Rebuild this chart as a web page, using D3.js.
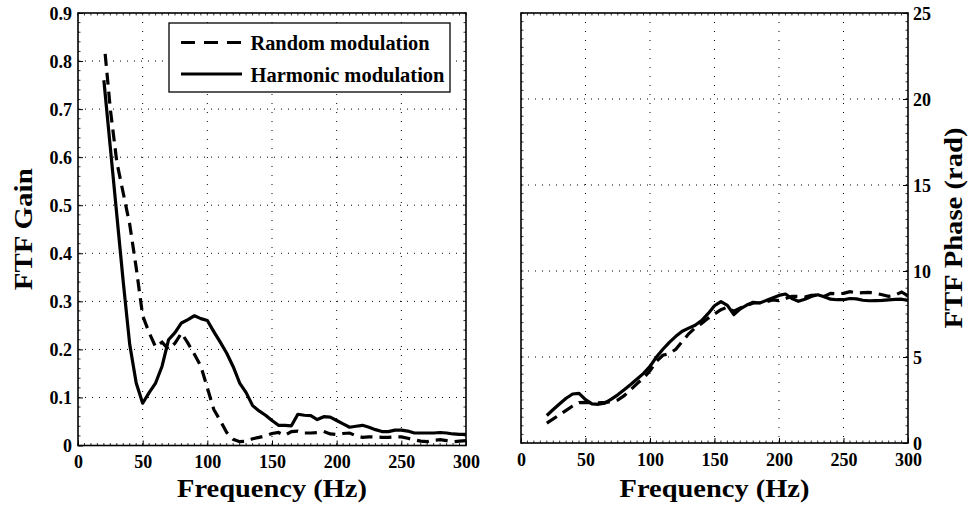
<!DOCTYPE html>
<html>
<head>
<meta charset="utf-8">
<script src="https://cdn.jsdelivr.net/npm/d3@7"></script>
<style>
  body { margin: 0; background: #fff; }
  text { font-family: "Liberation Serif", "DejaVu Serif Condensed", "DejaVu Serif", serif; font-weight: bold; fill: #000; }
</style>
</head>
<body>
<svg width="969" height="508"></svg>
<script>
// Gain data (left panel)
const harmFreq = [20, 25, 30, 35, 40, 45, 50, 55, 60, 65, 70, 75, 80, 85, 90, 95, 100, 105, 110, 115, 120, 125, 130, 135, 140, 145, 150, 155, 160, 165, 170, 175, 180, 185, 190, 195, 200, 205, 210, 215, 220, 225, 230, 235, 240, 245, 250, 255, 260, 265, 270, 275, 280, 285, 290, 295, 300];
const harmGain = [0.76, 0.62, 0.48, 0.34, 0.21, 0.13, 0.088, 0.11, 0.13, 0.165, 0.22, 0.235, 0.255, 0.262, 0.27, 0.264, 0.26, 0.237, 0.215, 0.192, 0.164, 0.13, 0.11, 0.083, 0.072, 0.063, 0.052, 0.042, 0.042, 0.041, 0.065, 0.063, 0.062, 0.054, 0.06, 0.059, 0.052, 0.045, 0.038, 0.04, 0.042, 0.038, 0.033, 0.029, 0.029, 0.032, 0.032, 0.03, 0.026, 0.026, 0.026, 0.026, 0.027, 0.026, 0.024, 0.023, 0.023];

const randFreq = [21, 25, 30, 35, 40, 45, 50, 55, 60, 65, 70, 75, 80, 85, 90, 95, 100, 105, 110, 115, 120, 125, 130, 135, 140, 145, 150, 155, 160, 165, 170, 175, 180, 185, 190, 195, 200, 205, 210, 215, 220, 225, 230, 235, 240, 245, 250, 255, 260, 265, 270, 275, 280, 285, 290, 295, 300];
const randGain = [0.815, 0.70, 0.59, 0.525, 0.46, 0.37, 0.27, 0.235, 0.205, 0.215, 0.2, 0.213, 0.234, 0.213, 0.19, 0.165, 0.12, 0.075, 0.052, 0.027, 0.013, 0.008, 0.009, 0.014, 0.017, 0.02, 0.025, 0.027, 0.021, 0.029, 0.03, 0.026, 0.026, 0.027, 0.029, 0.024, 0.023, 0.025, 0.026, 0.02, 0.017, 0.018, 0.018, 0.017, 0.017, 0.018, 0.018, 0.015, 0.012, 0.009, 0.008, 0.011, 0.012, 0.01, 0.008, 0.009, 0.01];

// Phase data (right panel)
const phaseFreq = [20, 25, 30, 35, 40, 45, 50, 55, 60, 65, 70, 75, 80, 85, 90, 95, 100, 105, 110, 115, 120, 125, 130, 135, 140, 145, 150, 155, 160, 165, 170, 175, 180, 185, 190, 195, 200, 205, 210, 215, 220, 225, 230, 235, 240, 245, 250, 255, 260, 265, 270, 275, 280, 285, 290, 295, 300];
const harmPhase = [1.6, 1.95, 2.28, 2.6, 2.85, 2.88, 2.52, 2.28, 2.25, 2.32, 2.55, 2.8, 3.1, 3.4, 3.72, 4.05, 4.45, 5.0, 5.45, 5.85, 6.2, 6.5, 6.68, 6.85, 7.12, 7.52, 7.98, 8.22, 8.0, 7.46, 7.8, 8.02, 8.18, 8.14, 8.28, 8.43, 8.58, 8.66, 8.4, 8.24, 8.36, 8.52, 8.62, 8.5, 8.36, 8.33, 8.33, 8.4, 8.38, 8.3, 8.27, 8.28, 8.29, 8.32, 8.35, 8.36, 8.29];
const randPhase = [1.16, 1.4, 1.65, 1.9, 2.15, 2.35, 2.36, 2.34, 2.34, 2.36, 2.4, 2.5, 2.75, 3.1, 3.45, 3.78, 4.2, 4.75, 5.1, 5.2, 5.45, 5.9, 6.35, 6.7, 6.95, 7.25, 7.5, 7.75, 7.9, 7.66, 7.85, 8.0, 8.14, 8.16, 8.2, 8.32, 8.28, 8.4, 8.53, 8.52, 8.49, 8.58, 8.6, 8.52, 8.7, 8.68, 8.7, 8.8, 8.72, 8.74, 8.76, 8.7, 8.62, 8.53, 8.6, 8.78, 8.55];

const freqTicks = [0, 50, 100, 150, 200, 250, 300];
const gainTicks = [0, 0.1, 0.2, 0.3, 0.4, 0.5, 0.6, 0.7, 0.8, 0.9];
const phaseTicks = [0, 5, 10, 15, 20, 25];
const legendLabels = ["Random modulation", "Harmonic modulation"];

const svg = d3.select("svg");

function zip(xs, ys) { return xs.map((x, i) => [x, ys[i]]); }

// Draw one panel
function panel(opt) {
    const x = d3.scaleLinear().domain([0, 300]).range([opt.left, opt.right]);
    const y = d3.scaleLinear().domain(opt.yDomain).range([opt.bottom, opt.top]);
    const g = svg.append("g");

    // dotted grid
    g.append("g").selectAll("line").data(freqTicks.slice(1, -1)).join("line")
        .attr("x1", d => x(d)).attr("x2", d => x(d))
        .attr("y1", opt.top).attr("y2", opt.bottom)
        .attr("stroke", "#000").attr("stroke-width", 1).attr("stroke-dasharray", "1,8");
    g.append("g").selectAll("line").data(opt.yTicks.slice(1, -1)).join("line")
        .attr("y1", d => y(d)).attr("y2", d => y(d))
        .attr("x1", opt.left).attr("x2", opt.right)
        .attr("stroke", "#000").attr("stroke-width", 1).attr("stroke-dasharray", "1,6");

    // minor ticks on the box
    const minorX = d3.range(0, 301, 5);
    const minorY = d3.range(opt.yDomain[0], opt.yDomain[1] + 1e-9, opt.minorStep);
    [[opt.bottom, -2.5], [opt.top, 2.5]].forEach(([yy, len]) => {
        g.append("g").selectAll("line").data(minorX).join("line")
            .attr("x1", d => x(d)).attr("x2", d => x(d))
            .attr("y1", yy).attr("y2", yy + len)
            .attr("stroke", "#000").attr("stroke-width", 0.8);
    });
    [[opt.left, 2.5], [opt.right, -2.5]].forEach(([xx, len]) => {
        g.append("g").selectAll("line").data(minorY).join("line")
            .attr("y1", d => y(d)).attr("y2", d => y(d))
            .attr("x1", xx).attr("x2", xx + len)
            .attr("stroke", "#000").attr("stroke-width", 0.8);
    });

    // axes with tick labels
    const xAxis = g.append("g").attr("transform", `translate(0,${opt.bottom})`)
        .call(d3.axisBottom(x).tickValues(freqTicks).tickFormat(d3.format("d")).tickSize(-5).tickPadding(11));
    xAxis.selectAll("text").style("font-size", "18px").attr("dy", "0.66em");

    const yAxisFn = opt.yRight ? d3.axisRight(y) : d3.axisLeft(y);
    const yAxis = g.append("g").attr("transform", `translate(${opt.yRight ? opt.right : opt.left},0)`)
        .call(yAxisFn.tickValues(opt.yTicks).tickFormat(opt.yFormat).tickSize(-5).tickPadding(opt.yRight ? 5 : 6));
    yAxis.selectAll("text").style("font-size", "18px").attr("dy", "0.36em");
    [xAxis, yAxis].forEach(a => {
        a.select(".domain").remove();
        a.selectAll("line").attr("stroke", "#000").attr("stroke-width", 1);
    });

    // box
    g.append("rect").attr("x", opt.left).attr("y", opt.top)
        .attr("width", opt.right - opt.left).attr("height", opt.bottom - opt.top)
        .attr("fill", "none").attr("stroke", "#000").attr("stroke-width", 1.6);

    const line = d3.line().x(d => x(d[0])).y(d => y(d[1]));
    g.append("path").datum(zip(opt.randX, opt.randY)).attr("d", line)
        .attr("fill", "none").attr("stroke", "#000").attr("stroke-width", 3.2)
        .attr("stroke-dasharray", "12,7");
    g.append("path").datum(zip(opt.harmX, opt.harmY)).attr("d", line)
        .attr("fill", "none").attr("stroke", "#000").attr("stroke-width", 3.2)
        .attr("stroke-linejoin", "round");

    // axis titles
    svg.append("text").attr("x", (opt.left + opt.right) / 2).attr("y", 497)
        .attr("text-anchor", "middle").style("font-size", "24.5px")
        .attr("textLength", 190).attr("lengthAdjust", "spacingAndGlyphs")
        .text("Frequency (Hz)");
    svg.append("text")
        .attr("transform", `translate(${opt.yLabelX},${(opt.top + opt.bottom) / 2}) rotate(-90)`)
        .attr("text-anchor", "middle").style("font-size", "24.5px")
        .attr("textLength", opt.yLabelLen).attr("lengthAdjust", "spacingAndGlyphs")
        .text(opt.yLabel);
    return { x, y };
}

panel({
    left: 78, right: 466, top: 13, bottom: 445.5,
    yDomain: [0, 0.9], yTicks: gainTicks, minorStep: 0.02,
    yFormat: d => d === 0 ? "0" : d3.format(".1f")(d),
    harmX: harmFreq, harmY: harmGain, randX: randFreq, randY: randGain,
    yLabel: "FTF Gain", yLabelX: 32, yLabelLen: 122, yRight: false
});

panel({
    left: 521, right: 908, top: 13, bottom: 443,
    yDomain: [0, 25], yTicks: phaseTicks, minorStep: 0.5,
    yFormat: d3.format("d"),
    harmX: phaseFreq, harmY: harmPhase, randX: phaseFreq, randY: randPhase,
    yLabel: "FTF Phase (rad)", yLabelX: 962, yLabelLen: 201, yRight: true
});

// legend
const legendWidths = [179, 194];
const leg = svg.append("g");
leg.append("rect").attr("x", 169).attr("y", 23).attr("width", 281).attr("height", 69)
    .attr("fill", "#fff").attr("stroke", "#000").attr("stroke-width", 1.3);
legendLabels.forEach((lab, i) => {
    const yy = 42.5 + i * 31.5;
    leg.append("line").attr("x1", 181).attr("x2", 242).attr("y1", yy).attr("y2", yy)
        .attr("stroke", "#000").attr("stroke-width", 3.2)
        .attr("stroke-dasharray", i === 0 ? "14,9" : null);
    leg.append("text").attr("x", 250.5).attr("y", yy + 7.5)
        .style("font-size", "20px")
        .attr("textLength", legendWidths[i]).attr("lengthAdjust", "spacingAndGlyphs")
        .text(lab);
});
</script>
</body>
</html>
